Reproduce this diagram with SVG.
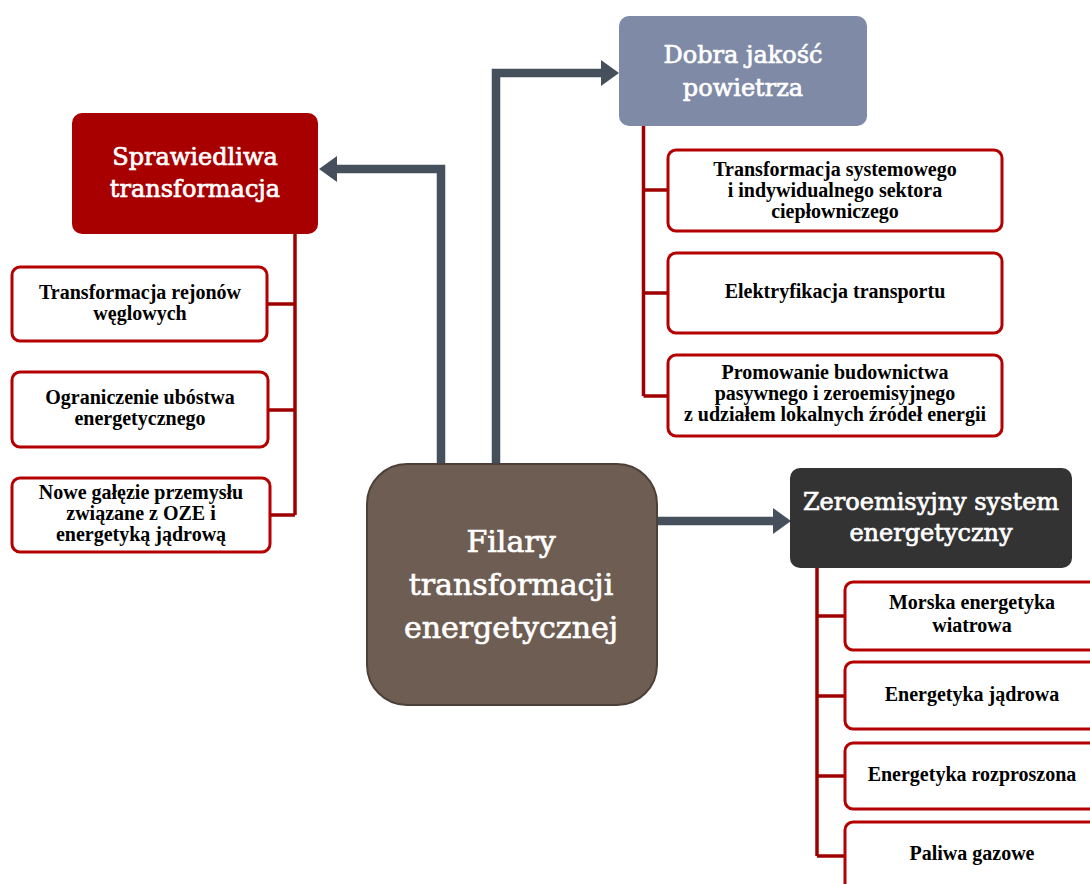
<svg xmlns="http://www.w3.org/2000/svg" width="1090" height="884" viewBox="0 0 1090 884">
  <style>
    .head { font-family: "DejaVu Serif", "Liberation Serif", serif; fill: #ffffff; stroke: #ffffff; stroke-width: 0.7px; text-anchor: middle; }
    .item { font-family: "Liberation Serif", "Times New Roman", serif; font-weight: bold; font-size: 20px; fill: #000000; text-anchor: middle; }
    .leaf { fill: #ffffff; stroke: #b40000; stroke-width: 3; }
    .branch { fill: none; stroke: #9e0000; stroke-width: 3.5; }
    .flow { fill: none; stroke: #45505c; stroke-width: 8.5; stroke-linejoin: miter; }
  </style>
  <defs>
    <marker id="head" viewBox="0 0 18 26" refX="0" refY="13" markerWidth="18" markerHeight="26" markerUnits="userSpaceOnUse" orient="auto">
      <path d="M0 0 L18 13 L0 26 Z" fill="#45505c"/>
    </marker>
  </defs>
  <rect width="1090" height="884" fill="#ffffff"/>

  <!-- connectors -->
  <g id="connectors">
    <path class="flow" d="M441 464 V169 H337" marker-end="url(#head)"/>
    <path class="flow" d="M496 464 V73 H601" marker-end="url(#head)"/>
    <path class="flow" d="M657 521 H773" marker-end="url(#head)"/>
    <path class="branch" d="M295 234 V515 M267 304 H295 M268 410 H295 M270 515 H295"/>
    <path class="branch" d="M643.5 126 V396 M643.5 190 H668 M643.5 293 H668 M643.5 396 H668"/>
    <path class="branch" d="M817 568 V856 M817 616 H845 M817 696 H845 M817 776 H845 M817 856 H845"/>
  </g>

  <!-- central pillar node -->
  <g id="filary">
    <rect x="367" y="464" width="290" height="241" rx="40" fill="#6e5d52" stroke="#4d4038" stroke-width="2"/>
    <text class="head" font-size="30" x="511" y="552">Filary</text>
    <text class="head" font-size="30" x="511" y="595">transformacji</text>
    <text class="head" font-size="30" x="511" y="638">energetycznej</text>
  </g>

  <!-- just transition -->
  <g id="sprawiedliwa">
    <rect x="72" y="113" width="246" height="121" rx="10" fill="#a80000"/>
    <text class="head" font-size="24" x="195" y="165">Sprawiedliwa</text>
    <text class="head" font-size="24" x="195" y="197">transformacja</text>
  </g>
  <g id="rejony">
    <rect class="leaf" x="12" y="267" width="255" height="74" rx="8"/>
    <text class="item" x="140" y="299">Transformacja rejonów</text>
    <text class="item" x="140" y="320">węglowych</text>
  </g>
  <g id="ubostwo">
    <rect class="leaf" x="12" y="372" width="256" height="75" rx="8"/>
    <text class="item" x="140" y="404">Ograniczenie ubóstwa</text>
    <text class="item" x="140" y="425">energetycznego</text>
  </g>
  <g id="przemysl">
    <rect class="leaf" x="12" y="478" width="258" height="74" rx="8"/>
    <text class="item" x="141" y="499">Nowe gałęzie przemysłu</text>
    <text class="item" x="141" y="520">związane z OZE i</text>
    <text class="item" x="141" y="541">energetyką jądrową</text>
  </g>

  <!-- air quality -->
  <g id="powietrze">
    <rect x="619" y="16" width="248" height="110" rx="10" fill="#7f8aa7"/>
    <text class="head" font-size="24" x="743" y="63">Dobra jakość</text>
    <text class="head" font-size="24" x="743" y="96">powietrza</text>
  </g>
  <g id="cieplownictwo">
    <rect class="leaf" x="668" y="150" width="334" height="81" rx="8"/>
    <text class="item" x="835" y="176">Transformacja systemowego</text>
    <text class="item" x="835" y="197">i indywidualnego sektora</text>
    <text class="item" x="835" y="218">ciepłowniczego</text>
  </g>
  <g id="transport">
    <rect class="leaf" x="668" y="253" width="334" height="80" rx="8"/>
    <text class="item" x="835" y="298">Elektryfikacja transportu</text>
  </g>
  <g id="budownictwo">
    <rect class="leaf" x="668" y="355" width="334" height="81" rx="8"/>
    <text class="item" x="835" y="379">Promowanie budownictwa</text>
    <text class="item" x="835" y="400">pasywnego i zeroemisyjnego</text>
    <text class="item" x="835" y="421">z udziałem lokalnych źródeł energii</text>
  </g>

  <!-- zero-emission energy system -->
  <g id="system">
    <rect x="790" y="468" width="282" height="100" rx="10" fill="#333333"/>
    <text class="head" font-size="24" x="931" y="510">Zeroemisyjny system</text>
    <text class="head" font-size="24" x="931" y="541">energetyczny</text>
  </g>
  <g id="wiatr">
    <rect class="leaf" x="845" y="582" width="260" height="68" rx="8"/>
    <text class="item" x="972" y="609">Morska energetyka</text>
    <text class="item" x="972" y="632">wiatrowa</text>
  </g>
  <g id="jadrowa">
    <rect class="leaf" x="845" y="662" width="260" height="67" rx="8"/>
    <text class="item" x="972" y="701">Energetyka jądrowa</text>
  </g>
  <g id="rozproszona">
    <rect class="leaf" x="845" y="743" width="260" height="66" rx="8"/>
    <text class="item" x="972" y="781">Energetyka rozproszona</text>
  </g>
  <g id="gaz">
    <rect class="leaf" x="845" y="822" width="260" height="80" rx="8"/>
    <text class="item" x="972" y="860">Paliwa gazowe</text>
  </g>
</svg>
